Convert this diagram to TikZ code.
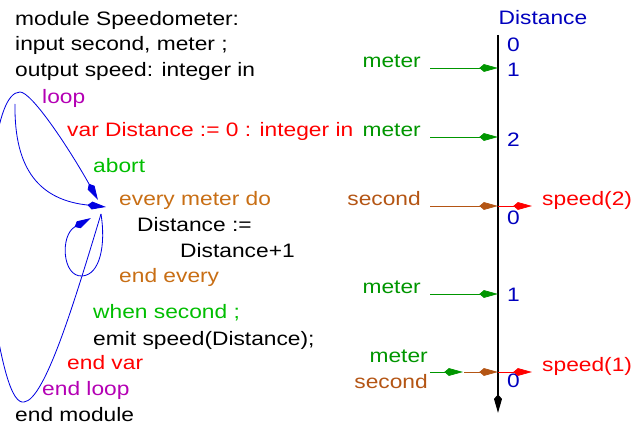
\documentclass[tikz,border=0pt]{standalone}
\usepackage{fontspec}
\setmainfont{Liberation Sans}[FakeStretch=1.17]
\usetikzlibrary{arrows.meta, positioning, calc}
\definecolor{violetLoop}{RGB}{180,0,180}
\definecolor{vertClair}{RGB}{0,190,0}
\definecolor{vertFonce}{RGB}{0,150,0}
\definecolor{ocre}{RGB}{200,110,20}
\definecolor{brun}{RGB}{180,85,20}
\definecolor{bleuTitre}{RGB}{0,0,190}
\definecolor{bleuBoucle}{RGB}{0,0,225}

\begin{document}
\begin{tikzpicture}[x=0.03cm, y=-0.03cm,
  font=\fontsize{16.6}{19}\selectfont,
  ligne/.style={anchor=base west, inner sep=0pt},
  evt/.style={anchor=base east, inner sep=0pt},
  nombre/.style={anchor=base west, inner sep=0pt, bleuTitre},
  pointe/.style={-{Stealth[length=4.2mm, width=2.2mm, inset=-1.4mm]}},
  boucle/.style={bleuBoucle, line width=0.7pt, pointe},
  fleche/.style={line width=0.6pt, pointe}]
  \useasboundingbox (0,0) rectangle (632,425);

  % Programme Esterel
  \node[ligne] (module) at (15,26) {module Speedometer:};
  \node[ligne] (input) at (15,51) {input second, meter ;};
  \node[ligne] (output) at (15,77) {output speed: integer in};
  \node[ligne, violetLoop] (loop) at (42,104) {loop};
  \node[ligne, red] (var) at (67,137) {var Distance := 0 : integer in};
  \node[ligne, vertClair] (abort) at (93,173) {abort};
  \node[ligne, ocre] (every) at (119,206) {every meter do};
  \node[ligne] (incrA) at (137,232) {Distance :=};
  \node[ligne] (incrB) at (180,258) {Distance+1};
  \node[ligne, ocre] (endevery) at (119,283) {end every};
  \node[ligne, vertClair] (when) at (93,319) {when second ;};
  \node[ligne] (emit) at (93,346) {emit speed(Distance);};
  \node[ligne, red] (endvar) at (67,370) {end var};
  \node[ligne, violetLoop] (endloop) at (42,396) {end loop};
  \node[ligne] (endmodule) at (15,422) {end module};

  % Boucles de controle
  \coordinate (pLoop) at (15,104);
  \coordinate (pEvery) at (106,207);
  \coordinate (pEveryHaut) at (98,200);
  \coordinate (pEveryBas) at (101,214);
  \coordinate (pRetour) at (91,218);
  \draw[boucle] (pLoop) .. controls (14,170) and (40,200) .. (pEvery);
  \draw[boucle] (pEveryBas) .. controls (75,300) and (45,400) .. (24,402)
    .. controls (12,404) and (2,370) .. (-10,290)
    .. controls (-14,200) and (-6,92) .. (20,92)
    .. controls (32,92) and (70,150) .. (pEveryHaut);
  \draw[boucle] (pEveryBas) .. controls (106,245) and (100,275) .. (82,276)
    .. controls (62,277) and (60,235) .. (pRetour);

  % Axe du temps
  \coordinate (axeHaut) at (498,35);
  \coordinate (axeBas) at (498,413);
  \draw[line width=0.9pt, pointe] (axeHaut) -- (axeBas);
  \node[anchor=base, inner sep=0pt, bleuTitre] (titre) at (543,25) {Distance};

  % Valeurs de Distance
  \node[nombre] (vA) at (507,52) {0};
  \node[nombre] (vB) at (507,77) {1};
  \node[nombre] (vC) at (507,147) {2};
  \node[nombre] (vD) at (507,225) {0};
  \node[nombre] (vE) at (507,302) {1};
  \node[nombre] (vF) at (507,388) {0};

  % Entrees
  \node[evt, vertFonce] (meterA) at (421,68) {meter};
  \node[evt, vertFonce] (meterB) at (421,137) {meter};
  \node[evt, brun] (secondA) at (421,206) {second};
  \node[evt, vertFonce] (meterC) at (421,294) {meter};
  \node[evt, vertFonce] (meterD) at (428,363) {meter};
  \node[evt, brun] (secondB) at (428,389) {second};
  \draw[fleche, vertFonce] ([xshift=0.27cm]meterA.base east) -- (meterA.base -| axeHaut);
  \draw[fleche, vertFonce] ([xshift=0.27cm]meterB.base east) -- (meterB.base -| axeHaut);
  \draw[fleche, brun] ([xshift=0.27cm]secondA.base east) -- (secondA.base -| axeHaut);
  \draw[fleche, vertFonce] ([xshift=0.27cm]meterC.base east) -- (meterC.base -| axeHaut);
  \coordinate (simul) at (498,372);
  \draw[fleche, vertFonce] ($(simul)+(-68,0)$) -- ($(simul)+(-35,0)$);
  \draw[fleche, brun] ($(simul)+(-34,0)$) -- (simul);

  % Sorties
  \node[ligne, red] (speedB) at (542,206) {speed(2)};
  \node[ligne, red] (speedA) at (542,372) {speed(1)};
  \draw[fleche, red] (secondA.base -| axeHaut) -- ([xshift=-0.3cm]speedB.base west);
  \draw[fleche, red] (simul) -- ([xshift=-0.3cm]speedA.base west);
\end{tikzpicture}
\end{document}
